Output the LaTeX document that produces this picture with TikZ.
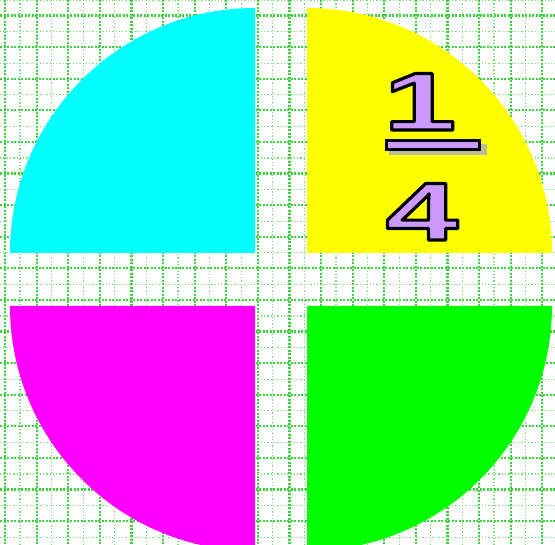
\documentclass[tikz,border=0pt]{standalone}
\usepackage{fontspec}
\usepackage{xcolor}
\definecolor{cyanq}{RGB}{0,255,255}
\definecolor{yellowq}{RGB}{255,255,0}
\definecolor{magq}{RGB}{255,0,255}
\definecolor{greenq}{RGB}{0,255,0}
\definecolor{lav}{RGB}{204,153,255}
\definecolor{shadowc}{RGB}{160,160,225}
\definecolor{gridthick}{RGB}{60,210,60}
\definecolor{gridthin}{RGB}{120,225,120}
\newfontfamily\fracfont[FakeStretch=1.6]{Liberation Sans}
\newcommand{\outlined}[1]{\textcolor{lav}{\special{pdf:literal direct 2 Tr 3.2 w 1 j 0 0 0 RG}#1\special{pdf:literal direct 0 Tr}}}
\tikzset{
  gthick/.style={gridthick, line width=2.2pt, dash pattern=on 2pt off 1.5pt},
  gthin/.style={gridthin, line width=1.3pt, dash pattern=on 1.3pt off 2pt},
  digit/.style={inner sep=0pt, font=\fontsize{82}{82}\fracfont\bfseries},
}
\begin{document}
\begin{tikzpicture}[x=1pt,y=-1pt]
\useasboundingbox (0,0) rectangle (555,545);
\fill[white] (0,0) rectangle (555,545);
\begin{scope}
\clip (0,0) rectangle (555,545);
% grid
\foreach \i in {0,...,17} {
  \draw[gthin] ({20+31.6*\i},0) -- ({20+31.6*\i},545);
  \draw[gthin] (0,{0+31.6*\i}) -- (555,{0+31.6*\i});
  \draw[gthick] ({5+31.6*\i},0) -- ({5+31.6*\i},545);
  \draw[gthick] (0,{15.5+31.6*\i}) -- (555,{15.5+31.6*\i});
}
% quadrants
\fill[cyanq] (255,253) -- (10,253) arc[start angle=180,end angle=270,radius=245] -- cycle;
\fill[yellowq] (307,253) -- (307,8) arc[start angle=270,end angle=360,radius=245] -- cycle;
\fill[greenq] (307,306) -- (552,306) arc[start angle=0,end angle=90,radius=245] -- cycle;
\fill[magq] (255,306) -- (255,551) arc[start angle=90,end angle=180,radius=245] -- cycle;
\end{scope}
% fraction
\fill[shadowc, opacity=0.7] (389,144) rectangle (487,155);
\node[fill=lav, draw=black, line width=3pt, minimum width=93pt, minimum height=9pt, inner sep=0pt] (bar) at (433,145) {};
\node[digit, anchor=base] (n1) at (420,130) {\outlined{1}};
\node[digit, anchor=base] (n4) at (422,240) {\outlined{4}};
\end{tikzpicture}
\end{document}
